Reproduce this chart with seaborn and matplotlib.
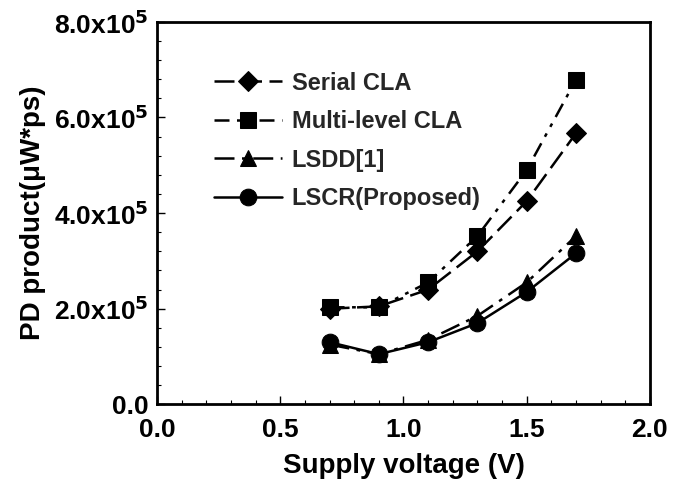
"""PD product vs supply voltage, redrawn with seaborn."""

import seaborn as sns
import matplotlib.pyplot as plt
import pandas as pd
from matplotlib.ticker import MultipleLocator, FuncFormatter

voltage = [0.7, 0.9, 1.1, 1.3, 1.5, 1.7]
serial_cla = [2.00e5, 2.05e5, 2.40e5, 3.20e5, 4.25e5, 5.67e5]
multi_cla = [2.03e5, 2.03e5, 2.55e5, 3.52e5, 4.90e5, 6.79e5]
lsdd = [1.25e5, 1.05e5, 1.35e5, 1.85e5, 2.55e5, 3.52e5]
lscr = [1.30e5, 1.05e5, 1.30e5, 1.70e5, 2.35e5, 3.16e5]

series = [
    ("Serial CLA", serial_cla, "D", (0, (8, 3))),
    ("Multi-level CLA", multi_cla, "s", (0, (6, 3, 1.5, 3, 1.5, 3))),
    ("LSDD[1]", lsdd, "^", (0, (8, 3, 1.5, 3))),
    ("LSCR(Proposed)", lscr, "o", "-"),
]

sns.set_theme(style="white")
plt.rcParams['font.family'] = ['Liberation Sans', 'DejaVu Sans']
plt.rcParams['font.weight'] = 'bold'
plt.rcParams['mathtext.default'] = 'bf'

fig, ax = plt.subplots(figsize=(6.77, 4.86), dpi=100)

for name, vals, marker, ls in series:
    df = pd.DataFrame({"v": voltage, "pd": vals})
    sns.lineplot(data=df, x="v", y="pd", ax=ax, color="black", marker=marker,
                 markersize=12 if marker != "D" else 10, markeredgecolor="black",
                 linestyle=ls, linewidth=1.8, label=name)

ax.set_xlim(0, 2.0)
ax.set_ylim(0, 8e5)
ax.xaxis.set_major_locator(MultipleLocator(0.5))
ax.xaxis.set_minor_locator(MultipleLocator(0.1))
ax.yaxis.set_major_locator(MultipleLocator(2e5))
ax.yaxis.set_minor_locator(MultipleLocator(0.4e5))


def yfmt(v, pos):
    if v == 0:
        return "0.0"
    return "%.1fx10$^5$" % (v / 1e5)


ax.yaxis.set_major_formatter(FuncFormatter(yfmt))
ax.xaxis.set_major_formatter(FuncFormatter(lambda v, p: "%.1f" % v))
ax.tick_params(axis="both", which="both", direction="in", left=True, bottom=True,
               labelsize=19, colors="black")
ax.tick_params(which="major", length=6, width=1)
ax.tick_params(which="minor", length=3, width=0.8)
ax.tick_params(axis="x", pad=10)
ax.tick_params(axis="y", pad=6)

for s in ax.spines.values():
    s.set_color("black")
    s.set_linewidth(2)

ax.set_xlabel("Supply voltage (V)", fontsize=20, fontweight="bold", color="black",
              labelpad=8)
ax.set_ylabel("PD product(μW*ps)", fontsize=20, fontweight="bold", color="black",
              labelpad=6)

leg = ax.legend(loc="upper left", bbox_to_anchor=(0.115, 0.87), frameon=False,
                fontsize=17, handlelength=2.9, labelspacing=0.66, handletextpad=0.4,
                borderpad=0, borderaxespad=0)
for t in leg.get_texts():
    t.set_fontweight("bold")

fig.subplots_adjust(left=0.232, right=0.96, top=0.955, bottom=0.168)
fig.savefig("out.png", dpi=100)
